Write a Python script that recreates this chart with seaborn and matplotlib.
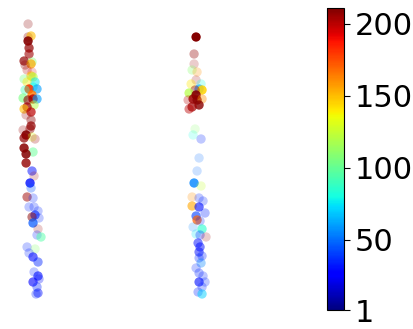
import numpy as np
import pandas as pd
import seaborn as sns
import matplotlib
matplotlib.use("Agg")
import matplotlib.pyplot as plt
from matplotlib.colors import Normalize
from matplotlib.cm import ScalarMappable

# group A (left strip)
a_rank = [24, 37, 36, 41, 48, 54, 61, 62, 64, 65, 70, 72, 76, 77, 79, 82, 82, 87, 89, 89,
          90, 95, 98, 99, 99, 100, 105, 107, 109, 112, 115, 120, 126, 129, 130, 135, 137, 138, 139, 148,
          152, 154, 163, 171, 176, 183, 188, 197, 198, 207, 207, 211, 215, 217, 218, 223, 229, 235, 237, 247,
          249, 253, 257, 262, 272, 276, 279, 282, 287, 293, 294]
a_value = [208, 207, 150, 210, 207, 205, 207, 110, 155, 207, 200, 195, 150, 120, 105, 75, 140, 80, 180, 60,
           90, 165, 105, 200, 60, 208, 120, 205, 150, 200, 205, 208, 207, 207, 205, 210, 130, 207, 205, 209,
           100, 210, 207, 30, 205, 30, 45, 205, 35, 35, 35, 35, 35, 209, 35, 45, 205, 35, 95, 35,
           110, 35, 30, 35, 35, 30, 30, 25, 35, 30, 35]
a_alpha = [0.25, 0.3, 0.6, 0.9, 0.7, 0.6, 0.7, 0.4, 0.7, 0.3, 0.25, 0.2, 0.6, 0.6, 0.35, 0.5, 0.4, 0.5, 0.9, 0.6,
           0.4, 0.8, 0.6, 0.8, 0.6, 0.6, 0.5, 0.7, 0.6, 0.7, 0.25, 0.4, 0.7, 0.45, 0.25, 0.9, 0.3, 0.7, 0.25, 0.85,
           0.5, 0.85, 0.8, 0.5, 0.2, 0.8, 0.3, 0.5, 0.25, 0.25, 0.25, 0.25, 0.6, 0.5, 0.25, 0.7, 0.2, 0.25, 0.5, 0.25,
           0.25, 0.25, 0.6, 0.45, 0.25, 0.6, 0.3, 0.6, 0.35, 0.45, 0.3]
a_jitter = [-0.018, -0.018, 0, -0.018, -0.012, -0.012, -0.042, 0.006, 0, -0.036, -0.024, 0.006, 0, 0.012, -0.042,
            0.024, -0.024, 0.012, -0.012, 0.036, -0.036, 0.006, -0.048, 0.012, 0.036, -0.018, 0.018, -0.024, -0.042, 0,
            -0.03, 0, 0, -0.006, -0.048, -0.03, 0.006, -0.042, 0.024, -0.042, 0.012, -0.03, -0.03, 0.006, 0.018,
            -0.006, 0, -0.024, 0.012, -0.012, 0.018, 0.042, 0.024, 0.006, 0.048, 0.012, 0.042, 0.036, 0.06, -0.024,
            0.024, -0.012, 0.012, 0.042, 0.018, 0.042, 0.048, 0.012, 0.036, 0.042, 0.03]

# group B (right strip)
b_rank = [37, 54, 64, 70, 72, 80, 84, 84, 89, 90, 90, 93, 95, 99, 100, 99, 100, 105, 107, 109,
          129, 135, 139, 158, 171, 183, 186, 197, 198, 201, 206, 207, 213, 216, 220, 221, 227, 229, 234, 235,
          237, 243, 247, 252, 256, 258, 263, 268, 273, 276, 282, 282, 287, 292, 294]
b_value = [210, 207, 205, 110, 160, 205, 140, 80, 60, 145, 207, 120, 210, 207, 208, 160, 200, 209, 205, 200,
           110, 80, 35, 50, 50, 55, 125, 160, 35, 35, 155, 30, 35, 40, 170, 35, 55, 85, 75, 35,
           205, 30, 30, 30, 35, 35, 55, 35, 35, 35, 35, 30, 35, 35, 70]
b_alpha = [1.0, 0.35, 0.2, 0.3, 0.25, 0.2, 0.35, 0.25, 0.6, 0.85, 0.4, 0.7, 0.9, 0.8, 0.8, 0.4, 0.3, 0.8, 0.7, 0.45,
           0.2, 0.2, 0.25, 0.2, 0.2, 0.8, 0.25, 0.25, 0.25, 0.25, 0.6, 0.6, 0.3, 0.6, 0.7, 0.25, 0.2, 0.6, 0.25, 0.3,
           0.2, 0.5, 0.5, 0.5, 0.3, 0.3, 0.35, 0.25, 0.3, 0.25, 0.25, 0.6, 0.25, 0.3, 0.5]
b_jitter = [-0.006, -0.018, -0.018, -0.03, 0, -0.006, -0.036, 0.024, 0.012, 0.03, -0.012, -0.048, -0.006, -0.024, 0,
            0.03, -0.054, 0.012, -0.03, -0.048, -0.012, -0.024, 0.024, 0.012, 0, -0.018, 0.024, -0.03, 0.012, 0.036,
            -0.03, 0.012, 0.048, -0.006, 0, 0.018, -0.024, 0.03, -0.006, 0.018, 0.054, 0.006, 0.018, 0.012, 0.03,
            0.012, 0.024, -0.006, 0.012, 0.036, 0.048, 0.012, 0.03, 0.006, 0.03]

vmin, vmax = 1, 211
cbar_ticks = [1, 50, 100, 150, 200]

df = pd.concat([
    pd.DataFrame({"x": np.array(a_jitter) + 0, "rank": a_rank, "value": a_value, "alpha": a_alpha}),
    pd.DataFrame({"x": np.array(b_jitter) + 1, "rank": b_rank, "value": b_value, "alpha": b_alpha}),
], ignore_index=True)

fig = plt.figure(figsize=(4.14, 3.29), dpi=100)
ax = fig.add_axes([0, 0, 300 / 414, 1])

jet = plt.get_cmap("jet")
norm = Normalize(vmin, vmax)
sns.scatterplot(data=df, x="x", y="rank", hue="value", palette=jet, hue_norm=norm,
                alpha=df["alpha"].to_numpy(), s=45, linewidth=0, legend=False, ax=ax)
ax.set_xlim(-0.187, 1.62)
ax.set_ylim(329, 0)
ax.axis("off")

cax = fig.add_axes([327 / 414, 19 / 329, 17 / 414, 302 / 329])
cb = fig.colorbar(ScalarMappable(norm=norm, cmap=jet), cax=cax, ticks=cbar_ticks)
cb.ax.tick_params(labelsize=22, length=4)

fig.savefig("out.png", dpi=100)
